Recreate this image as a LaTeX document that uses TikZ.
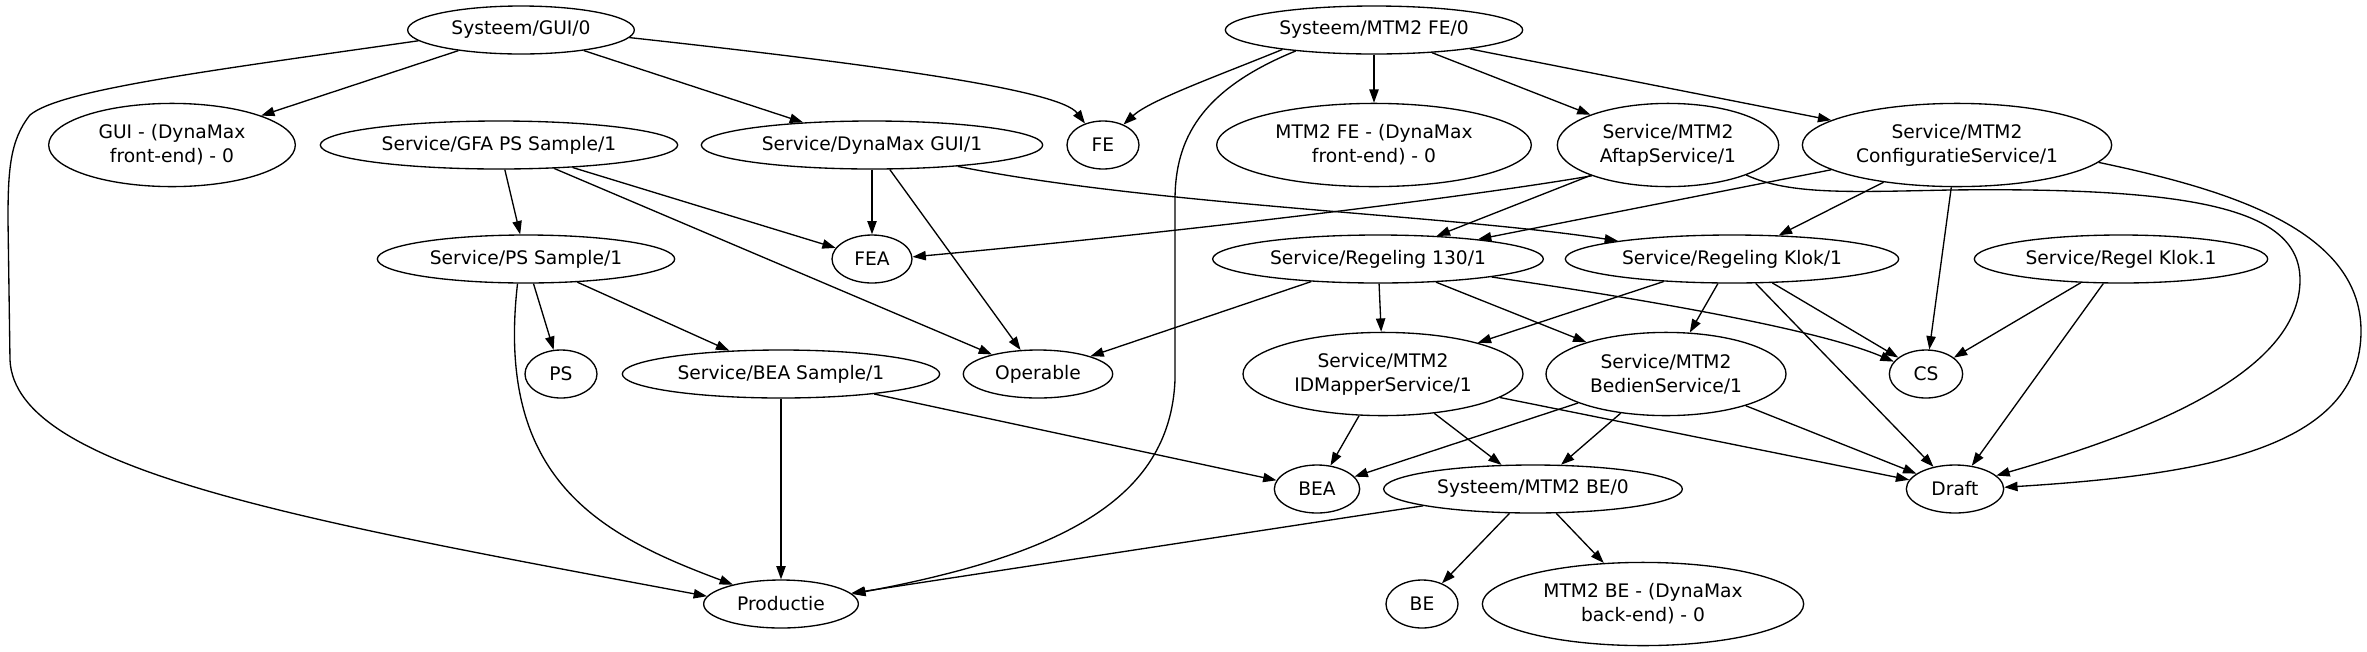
\documentclass[tikz,border=0pt]{standalone}
\usepackage{fontspec}
\setmainfont{DejaVu Sans}
\usetikzlibrary{arrows.meta,shapes.geometric}
\begin{document}
\begin{tikzpicture}[x=0.75pt,y=-0.75pt,
  nd/.style={draw, ellipse, line width=1pt, inner sep=0pt, minimum height=36pt,
             font=\fontsize{14}{18}\selectfont, align=center},
  nd2/.style={nd, minimum height=62.4pt},
  e/.style={line width=1pt, -{Triangle[length=10pt,width=7pt]}}]
\fill[white] (0,0) rectangle (2367,651);
\useasboundingbox (0,0) rectangle (2367,651);

% rank 1
\node[nd, minimum width=170pt] (gui0) at (521,30) {Systeem/GUI/0};
\node[nd, minimum width=223pt] (mtm2fe0) at (1374,30) {Systeem/MTM2 FE/0};
% rank 2
\node[nd2, minimum width=185pt] (guife) at (172,145) {GUI - (DynaMax\\front-end) - 0};
\node[nd, minimum width=268pt] (gfa) at (499,145) {Service/GFA PS Sample/1};
\node[nd, minimum width=256pt] (dmgui) at (872,145) {Service/DynaMax GUI/1};
\node[nd, minimum width=54pt] (fe) at (1103,145) {FE};
\node[nd2, minimum width=236pt] (mtm2fe) at (1374,145) {MTM2 FE - (DynaMax\\front-end) - 0};
\node[nd2, minimum width=166pt] (aftap) at (1668,145) {Service/MTM2\\AftapService/1};
\node[nd2, minimum width=232pt] (config) at (1957,145) {Service/MTM2\\ConfiguratieService/1};
% rank 3
\node[nd, minimum width=223pt] (pssample) at (526,259) {Service/PS Sample/1};
\node[nd, minimum width=60pt] (fea) at (872,259) {FEA};
\node[nd, minimum width=248pt] (reg130) at (1378,259) {Service/Regeling 130/1};
\node[nd, minimum width=250pt] (regklok) at (1732,259) {Service/Regeling Klok/1};
\node[nd, minimum width=220pt] (regelklok) at (2121,259) {Service/Regel Klok.1};
% rank 4
\node[nd, minimum width=54pt] (ps) at (561,374) {PS};
\node[nd, minimum width=238pt] (beasample) at (781,374) {Service/BEA Sample/1};
\node[nd, minimum width=112pt] (operable) at (1038,374) {Operable};
\node[nd2, minimum width=210pt] (idmapper) at (1383,374) {Service/MTM2\\IDMapperService/1};
\node[nd2, minimum width=180pt] (bedien) at (1666,374) {Service/MTM2\\BedienService/1};
\node[nd, minimum width=55pt] (cs) at (1926,374) {CS};
% rank 5
\node[nd, minimum width=64pt] (bea) at (1317,489) {BEA};
\node[nd, minimum width=224pt] (mtm2be0) at (1533,489) {Systeem/MTM2 BE/0};
\node[nd, minimum width=73pt] (draft) at (1955,489) {Draft};
% rank 6
\node[nd, minimum width=116pt] (productie) at (781,604) {Productie};
\node[nd, minimum width=54pt] (be) at (1422,604) {BE};
\node[nd2, minimum width=241pt] (mtm2be) at (1643,604) {MTM2 BE - (DynaMax\\back-end) - 0};

% edges from Systeem/GUI/0
\draw[e] (gui0) -- (guife);
\draw[e] (gui0) -- (dmgui);
\draw[e] (gui0.-4) .. controls (880,65) and (1060,90) .. (fe.130);
\draw[e] (gui0.186) .. controls (200,72) and (60,90) .. (30,115)
  .. controls (10,140) and (8,170) .. (8,220) -- (10,360)
  .. controls (15,470) and (300,520) .. (productie.174);
% edges from Systeem/MTM2 FE/0
\draw[e] (mtm2fe0.192) .. controls (1220,75) and (1150,100) .. (fe.45);
\draw[e] (mtm2fe0) -- (mtm2fe);
\draw[e] (mtm2fe0) -- (aftap);
\draw[e] (mtm2fe0) -- (config);
\draw[e] (mtm2fe0.195) .. controls (1200,90) and (1175,140) .. (1175,200) -- (1175,380)
  .. controls (1170,500) and (1060,555) .. (productie.8);
% rank 2 sources
\draw[e] (gfa) -- (pssample);
\draw[e] (gfa) -- (fea);
\draw[e] (gfa) -- (operable);
\draw[e] (dmgui) -- (fea);
\draw[e] (dmgui) -- (operable);
\draw[e] (dmgui.-14) .. controls (1150,205) and (1450,215) .. (regklok.171);
\draw[e] (aftap.202) .. controls (1450,200) and (1150,235) .. (fea.3);
\draw[e] (aftap) -- (reg130);
\draw[e] (aftap.-21) .. controls (1790,195) and (1850,192) .. (1950,190)
  .. controls (2200,187) and (2300,210) .. (2300,280)
  .. controls (2300,380) and (2120,440) .. (draft.18);
\draw[e] (config) -- (reg130);
\draw[e] (config) -- (regklok);
\draw[e] (config) -- (cs);
\draw[e] (config.-7) .. controls (2230,190) and (2360,230) .. (2361,330)
  .. controls (2362,450) and (2200,475) .. (draft.2);
% rank 3 sources
\draw[e] (pssample) -- (ps);
\draw[e] (pssample) -- (beasample);
\draw[e] (pssample.251) .. controls (495,480) and (600,535) .. (productie.158);
\draw[e] (reg130) -- (operable);
\draw[e] (reg130) -- (idmapper);
\draw[e] (reg130) -- (bedien);
\draw[e] (reg130.-9) .. controls (1650,300) and (1820,330) .. (cs.159);
\draw[e] (regklok) -- (idmapper);
\draw[e] (regklok) -- (bedien);
\draw[e] (regklok) -- (cs);
\draw[e] (regklok) -- (draft);
\draw[e] (regelklok) -- (cs);
\draw[e] (regelklok) -- (draft);
% rank 4 sources
\draw[e] (beasample) -- (productie);
\draw[e] (beasample) -- (bea);
\draw[e] (idmapper) -- (bea);
\draw[e] (idmapper) -- (mtm2be0);
\draw[e] (idmapper) -- (draft);
\draw[e] (bedien) -- (bea);
\draw[e] (bedien) -- (mtm2be0);
\draw[e] (bedien) -- (draft);
% rank 5 sources
\draw[e] (mtm2be0) -- (productie);
\draw[e] (mtm2be0) -- (be);
\draw[e] (mtm2be0) -- (mtm2be);
\end{tikzpicture}
\end{document}
